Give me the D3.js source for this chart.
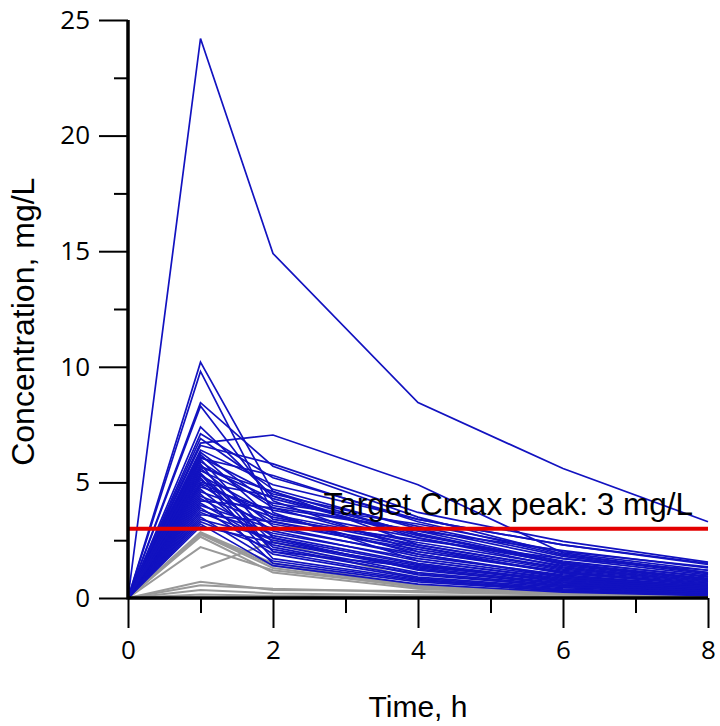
<!DOCTYPE html>
<html>
<head>
<meta charset="utf-8">
<script src="https://cdn.jsdelivr.net/npm/d3@7"></script>
<style>
  body { margin: 0; background: #fff; }
  svg { display: block; }
</style>
</head>
<body>
<div id="chart"></div>
<script>
// sampling times, h
var times = [0, 1, 2, 4, 6, 8];

// subjects reaching the 3 mg/L target (blue)
var blueSeries = [
  [0, 24.2, 14.9, 8.45, 5.6, 3.3],
  [0, 10.2, 4.6, 2.3, 1.3, 0.7],
  [0, 9.8, 3.7, 1.6, 0.8, 0.4],
  [0, 8.45, 5.7, 3.5, 1.9, 1.1],
  [0, 8.3, 4.2, 2.0, 1.1, 0.6],
  [0, 7.4, 4.4, 2.6, 1.5, 0.8],
  [0, 7.1, 5.2, 3.4, 2.3, 1.5],
  [0, 6.7, 7.05, 4.9, 1.95, 1.2],
  [0, 6.6, 5.8, 3.7, 2.45, 1.55],
  [0, 6.4, 4.9, 3.4, 2.3, 1.45],
  [0, 6.3, 4.0, 2.9, 2.05, 1.3],
  [0, 6.2, 3.4, 2.5, 1.7, 1.2],
  [0, 6.1, 4.5, 3.1, 1.8, 1.05],
  [0, 6.0, 2.6, 1.2, 0.6, 0.3],
  [0, 5.9, 3.9, 2.2, 1.2, 0.65],
  [0, 5.8, 2.0, 0.9, 0.45, 0.2],
  [0, 5.7, 4.3, 2.7, 1.6, 0.9],
  [0, 5.6, 3.1, 1.8, 1.0, 0.5],
  [0, 5.5, 4.1, 3.2, 2.0, 1.35],
  [0, 5.4, 2.4, 1.4, 0.7, 0.35],
  [0, 5.3, 3.6, 2.4, 1.4, 0.8],
  [0, 5.2, 1.7, 0.8, 0.35, 0.15],
  [0, 5.1, 3.3, 2.0, 1.15, 0.6],
  [0, 5.0, 4.4, 2.8, 1.5, 0.85],
  [0, 4.9, 2.9, 1.6, 0.85, 0.45],
  [0, 4.8, 3.8, 2.6, 1.35, 0.75],
  [0, 4.7, 2.2, 1.0, 0.5, 0.25],
  [0, 4.6, 3.5, 2.3, 1.25, 0.7],
  [0, 4.5, 1.5, 0.7, 0.3, 0.12],
  [0, 4.4, 3.2, 2.1, 1.1, 0.55],
  [0, 4.3, 2.7, 1.5, 0.75, 0.4],
  [0, 4.2, 3.9, 2.9, 1.55, 0.95],
  [0, 4.1, 2.3, 1.1, 0.55, 0.28],
  [0, 4.0, 3.0, 1.9, 0.95, 0.5],
  [0, 3.9, 1.9, 0.85, 0.4, 0.18],
  [0, 3.8, 2.8, 1.7, 0.9, 0.45],
  [0, 3.7, 2.5, 1.3, 0.65, 0.32],
  [0, 3.6, 3.3, 2.2, 1.05, 0.6],
  [0, 3.5, 1.6, 0.75, 0.35, 0.15],
  [0, 3.4, 2.6, 1.45, 0.7, 0.38],
  [0, 3.3, 2.1, 1.05, 0.5, 0.22],
  [0, 3.2, 1.4, 0.6, 0.25, 0.1],
  [0, 3.1, 2.4, 1.25, 0.6, 0.3],
  [0, 6.9, 4.7, 3.0, 1.7, 1.0],
  [0, 5.65, 4.6, 2.75, 1.45, 0.8],
  [0, 4.95, 3.6, 1.9, 0.9, 0.5],
  [0, 6.05, 5.3, 3.3, 1.85, 1.1],
  [0, 5.35, 2.0, 1.35, 0.8, 0.45]
];

// subjects below the target (gray); null = not sampled
var graySeries = [
  [0, 2.85, 1.5, 0.55, 0.25, 0.1],
  [0, 2.8, 1.4, 0.5, 0.22, 0.08],
  [0, 2.75, 1.3, 0.45, 0.2, 0.08],
  [0, 2.65, 1.1, 0.4, 0.15, 0.05],
  [0, 2.2, 1.2, 0.5, 0.2, 0.1],
  [null, 1.3, 2.43, 0.8, 0.3, 0.12],
  [0, 0.7, 0.35, 0.3, 0.2, 0.1],
  [0, 0.55, 0.4, 0.25, 0.15, 0.08],
  [0, 0.35, 0.2, 0.12, 0.08, 0.05],
  [0, 0.15, 0.1, 0.05, 0.03, 0.02]
];

var targetValue = 3;
var targetLabel = "Target Cmax peak: 3 mg/L";

var xMajor = [0, 2, 4, 6, 8], xMinor = [1, 3, 5, 7];
var yMajor = [0, 5, 10, 15, 20, 25], yMinor = [2.5, 7.5, 12.5, 17.5, 22.5];

var margin = {top: 20, right: 12, bottom: 128, left: 128},
    width = 720 - margin.left - margin.right,
    height = 726 - margin.top - margin.bottom;

var x = d3.scaleLinear().domain([0, 8]).range([0, width]),
    y = d3.scaleLinear().domain([0, 25]).range([height, 0]);

var svg = d3.select("#chart").append("svg")
    .attr("width", 720)
    .attr("height", 726);

var g = svg.append("g")
    .attr("transform", "translate(" + margin.left + "," + margin.top + ")");

var line = d3.line()
    .defined(function(d) { return d[1] != null; })
    .x(function(d) { return x(d[0]); })
    .y(function(d) { return y(d[1]); });

function pairs(vals) {
  return vals.map(function(v, i) { return [times[i], v]; });
}

g.selectAll(".gray")
  .data(graySeries)
  .enter().append("path")
  .attr("class", "gray")
  .attr("d", function(d) { return line(pairs(d)); })
  .attr("fill", "none")
  .attr("stroke", "#999999")
  .attr("stroke-width", 2);

g.selectAll(".blue")
  .data(blueSeries)
  .enter().append("path")
  .attr("class", "blue")
  .attr("d", function(d) { return line(pairs(d)); })
  .attr("fill", "none")
  .attr("stroke", "#1212c0")
  .attr("stroke-width", 1.7);

// target line
g.append("line")
  .attr("x1", x(0)).attr("x2", x(8))
  .attr("y1", y(targetValue)).attr("y2", y(targetValue))
  .attr("stroke", "#e30000")
  .attr("stroke-width", 4);

g.append("text")
  .attr("x", x(8) - 15)
  .attr("y", y(targetValue) - 14)
  .attr("text-anchor", "end")
  .style("font-family", "'Liberation Sans', Arial, sans-serif")
  .style("font-size", "31.5px")
  .attr("fill", "#000")
  .text(targetLabel);

// axes
var xAxis = d3.axisBottom(x).tickValues(xMajor).tickSize(30).tickPadding(13).tickFormat(d3.format("d"));
var yAxis = d3.axisLeft(y).tickValues(yMajor).tickSize(29).tickPadding(9).tickFormat(d3.format("d"));

var gx = g.append("g")
  .attr("transform", "translate(0," + height + ")")
  .call(xAxis);
gx.append("g").call(d3.axisBottom(x).tickValues(xMinor).tickSize(15).tickFormat(""));

var gy = g.append("g").call(yAxis);
gy.append("g").call(d3.axisLeft(y).tickValues(yMinor).tickSize(14).tickFormat(""));

g.selectAll(".domain").attr("stroke", "none");
g.selectAll(".tick line").attr("stroke", "#000").attr("stroke-width", 2);
g.selectAll(".tick text")
  .style("font-family", "'Open Sans', 'Noto Sans', sans-serif")
  .style("font-size", "26px")
  .attr("fill", "#000");

// heavy axis lines
g.append("line")
  .attr("x1", x(0)).attr("x2", x(8))
  .attr("y1", y(0)).attr("y2", y(0))
  .attr("stroke", "#000").attr("stroke-width", 3.5);
g.append("line")
  .attr("x1", x(0)).attr("x2", x(0))
  .attr("y1", y(0) + 1.5).attr("y2", y(25))
  .attr("stroke", "#000").attr("stroke-width", 3.5);

// titles
svg.append("text")
  .attr("x", margin.left + x(4))
  .attr("y", 717)
  .attr("text-anchor", "middle")
  .style("font-family", "'Liberation Sans', Arial, sans-serif")
  .style("font-size", "30px")
  .text("Time, h");

svg.append("text")
  .attr("transform", "translate(34," + (margin.top + y(11.95)) + ") rotate(-90)")
  .attr("text-anchor", "middle")
  .style("font-family", "'Liberation Sans', Arial, sans-serif")
  .style("font-size", "32px")
  .text("Concentration, mg/L");
</script>
</body>
</html>
